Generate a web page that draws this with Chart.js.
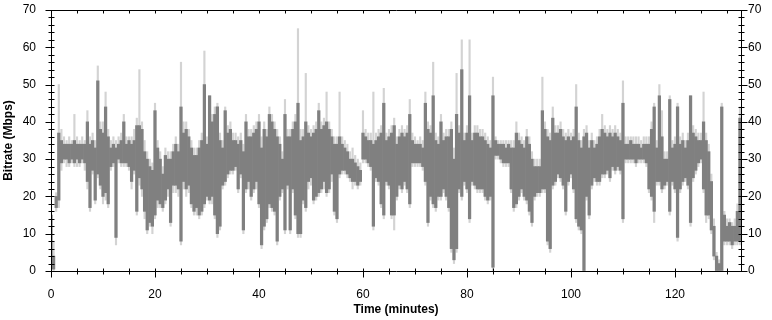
<!DOCTYPE html>
<html>
<head>
<meta charset="utf-8">
<script src="https://cdn.jsdelivr.net/npm/chart.js@4.4.1/dist/chart.umd.min.js"></script>
<style>
  html, body { margin: 0; padding: 0; background: #fff; }
  canvas { display: block; }
</style>
</head>
<body>
<canvas id="bitrateChart" width="772" height="320"></canvas>
<script>
// one sample every half minute
const SAMPLE_STEP = 0.5;
const TIME_MAX = 132.7;
const Y_MAX = 70;

// averaged bitrate envelope (dark trace), Mbps
const darkLow = [
  1,0.5,17,19,29,30,30,29,30,29,
  30,29,30,29,24,17,27,19,26,23,
  20,21,18,28,29,9,30,29,29,29,
  28,24,27,16,25,22,16,11,13,12,
  15,19,18,17,19,22,13,23,23,22,
  8,24,22,23,18,16,17,15,16,18,
  20,19,20,15,10,12,23,24,26,27,
  27,28,22,26,11,22,24,20,22,24,
  18,7,12,14,18,17,16,8,20,22,
  11,23,11,22,15,10,10,19,17,24,
  25,19,20,21,22,24,21,22,26,16,
  14,26,27,27,26,25,24,24,23,24,
  30,30,29,28,12,25,24,18,15,24,
  23,15,15,20,23,22,24,22,18,29,
  29,29,29,28,24,13,20,18,17,20,
  20,22,20,17,6,3,6,22,20,24,
  22,14,24,23,22,22,22,20,19,20,
  1,31,31,30,29,29,29,22,17,18,
  20,22,20,19,16,13,20,21,21,22,
  22,8,6,23,24,26,25,23,16,24,
  26,22,14,12,11,0,20,15,23,25,
  24,24,26,26,27,25,28,27,28,27,
  14,30,30,30,30,29,30,30,30,29,
  22,20,16,24,24,22,23,24,16,24,
  22,9,22,24,25,23,13,25,27,29,
  30,22,15,15,11,4,0,0,0,8,
  8,8,7,8,8,8
];
const darkHigh = [
  15,4,20,37,35,34,34,34,34,35,
  34,34,34,34,40,34,35,33,51,38,
  37,44,36,33,34,33,34,35,40,34,
  35,34,35,39,39,38,32,30,28,27,
  43,33,30,26,31,30,30,32,34,32,
  44,37,38,36,33,31,31,33,35,50,
  34,47,40,42,44,35,33,43,37,38,
  35,35,34,35,32,40,36,36,37,38,
  40,33,38,36,42,40,38,36,34,30,
  42,36,36,38,40,45,35,36,40,37,
  36,37,38,43,38,39,40,38,36,34,
  34,36,34,33,32,30,30,29,28,27,
  37,36,35,35,34,35,36,37,45,35,
  36,37,39,34,36,37,36,37,42,35,
  34,34,34,33,45,38,37,47,35,34,
  40,35,36,36,38,30,42,37,54,35,
  37,47,35,37,37,36,36,35,34,33,
  47,35,34,34,34,33,34,33,33,37,
  35,34,33,36,34,30,28,28,28,43,
  38,36,35,41,37,37,38,36,35,36,
  35,36,44,35,33,36,37,33,35,33,
  34,36,38,37,36,37,36,37,36,35,
  45,34,34,35,34,34,34,33,34,34,
  34,38,44,33,47,36,30,30,46,33,
  34,44,34,35,33,35,47,37,36,35,
  35,40,35,32,24,12,4,2,44,15,
  12,13,12,12,16,41
];

// peak bitrate envelope (light trace), Mbps
const lightLow = [
  0,0,16,17,27,29,28,28,29,28,
  28,28,29,27,22,16,26,18,25,22,
  18,19,17,27,28,7,29,28,28,28,
  27,22,26,15,23,20,14,10,12,10,
  14,17,17,16,18,20,12,21,21,20,
  7,22,20,21,17,15,15,14,15,17,
  19,18,18,14,9,11,22,23,25,26,
  26,27,21,25,10,21,22,19,21,22,
  17,6,11,13,17,16,15,7,19,21,
  10,22,10,21,14,9,9,18,16,22,
  23,18,19,20,21,22,20,21,24,15,
  13,25,26,26,25,24,22,23,22,23,
  29,29,28,27,11,24,23,17,14,23,
  22,14,11,19,22,21,23,21,17,28,
  28,28,28,27,23,12,19,17,16,19,
  19,21,19,16,5,2,5,21,19,23,
  21,13,23,22,21,21,21,19,18,19,
  0,30,30,29,28,28,28,21,16,17,
  19,21,19,18,15,12,19,20,20,21,
  21,7,5,22,23,25,24,22,15,23,
  25,21,13,11,10,0,19,14,22,24,
  23,23,25,25,26,24,27,26,27,26,
  13,29,29,29,29,28,29,29,29,28,
  21,19,13,23,23,21,22,23,15,23,
  21,8,21,23,24,22,12,24,26,28,
  29,21,13,14,10,3,0,0,0,7,
  7,7,6,7,7,7
];
const lightHigh = [
  18,8,21,50,38,36,35,36,35,42,
  36,35,36,35,43,36,37,35,55,40,
  40,48,38,35,36,35,36,37,42,36,
  36,36,38,41,54,40,35,32,30,29,
  45,35,32,28,33,32,32,34,36,34,
  56,40,40,38,35,33,33,35,37,59,
  36,47,42,44,45,37,35,44,39,40,
  37,37,36,37,34,42,38,38,39,40,
  42,36,40,38,44,42,40,38,36,32,
  46,38,38,40,42,65,38,38,53,39,
  38,39,40,45,40,41,48,40,38,36,
  36,48,36,35,34,32,33,31,30,29,
  43,38,37,37,48,37,38,39,49,37,
  38,39,41,36,38,39,38,39,46,37,
  36,35,36,35,48,40,39,56,37,36,
  42,37,38,38,40,33,53,39,62,37,
  39,62,37,39,39,38,38,37,36,35,
  52,36,35,35,35,35,35,35,35,40,
  37,36,35,38,36,32,30,30,30,52,
  40,38,37,44,39,39,40,38,37,38,
  37,38,50,37,35,38,39,35,37,35,
  36,38,42,39,38,39,38,39,38,37,
  51,36,36,36,36,36,36,35,36,36,
  36,40,45,35,50,43,32,32,47,35,
  36,45,36,37,35,37,47,39,38,37,
  37,48,37,34,26,14,5,3,45,16,
  14,14,13,14,18,44
];

const FONT = "Arial, 'Liberation Sans', sans-serif";

function toBars(low, high) {
  return low.map((lo, i) => ({ x: i * SAMPLE_STEP, y: [lo, high[i]] }));
}

// box round the plot, with ticks crossing the axes like the original
const frame = {
  id: "frame",
  afterDraw(chart) {
    const { ctx, chartArea: a, scales } = chart;
    const L = Math.round(a.left) + 0.5, R = Math.round(a.right) + 0.5;
    const T = Math.round(a.top) + 0.5, B = Math.round(a.bottom) + 0.5;
    ctx.save();
    ctx.strokeStyle = "#000";
    ctx.lineWidth = 1;
    ctx.beginPath();
    ctx.rect(L, T, R - L, B - T);
    for (let v = 0; v <= Y_MAX; v += 2) {
      const y = Math.round(scales.y.getPixelForValue(v)) + 0.5;
      const major = v % 10 === 0;
      ctx.moveTo(L - (major ? 6 : 3), y); ctx.lineTo(L + 3, y);
      ctx.moveTo(R - 3, y); ctx.lineTo(R + (major ? 6 : 3), y);
    }
    for (let t = 0; t <= TIME_MAX; t += 5) {
      const x = Math.round(scales.x.getPixelForValue(t)) + 0.5;
      const major = t % 20 === 0;
      ctx.moveTo(x, B - 3); ctx.lineTo(x, B + (major ? 6 : 3));
      ctx.moveTo(x, T); ctx.lineTo(x, T + 3);
    }
    ctx.stroke();
    ctx.restore();
  }
};

const tickFont = { family: FONT, size: 12 };
const titleFont = { family: FONT, size: 12, weight: "bold" };
// invisible tick marks only push the labels away from the axis
const hiddenTicks = len => ({ display: true, drawOnChartArea: false, drawTicks: true, tickLength: len, color: "rgba(0,0,0,0)" });

new Chart(document.getElementById("bitrateChart"), {
  type: "bar",
  data: {
    datasets: [
      { label: "Bitrate", data: toBars(darkLow, darkHigh), backgroundColor: "#808080",
        barThickness: 2.6, grouped: false, order: 0, xAxisID: "x", yAxisID: "y" },
      { label: "Peak", data: toBars(lightLow, lightHigh), backgroundColor: "#d3d3d3",
        barThickness: 1.5, grouped: false, order: 1, xAxisID: "x", yAxisID: "y" }
    ]
  },
  options: {
    responsive: false,
    animation: false,
    layout: { padding: { top: 10, left: 0, right: 0, bottom: 0 } },
    plugins: { legend: { display: false }, tooltip: { enabled: false } },
    scales: {
      x: {
        type: "linear", min: 0, max: TIME_MAX, offset: false,
        grid: { display: false }, border: { display: false },
        ticks: { stepSize: 20, includeBounds: false, padding: 8, color: "#000", font: tickFont, maxRotation: 0 },
        title: { display: true, text: "Time (minutes)", color: "#000", font: titleFont, padding: { top: 0, bottom: 3 } },
        afterFit(s) { s.height = 49; }
      },
      y: {
        position: "left", min: 0, max: Y_MAX,
        grid: hiddenTicks(15), border: { display: false },
        ticks: { stepSize: 10, padding: 0, color: "#000", font: tickFont },
        title: { display: true, text: "Bitrate (Mbps)", color: "#000", font: titleFont, padding: { top: 1, bottom: 0 } },
        afterFit(s) { s.width = 51; }
      },
      y2: {
        position: "right", min: 0, max: Y_MAX,
        grid: hiddenTicks(7), border: { display: false },
        ticks: { stepSize: 10, padding: 0, color: "#000", font: tickFont },
        afterFit(s) { s.width = 31; }
      }
    }
  },
  plugins: [frame]
});
</script>
</body>
</html>
